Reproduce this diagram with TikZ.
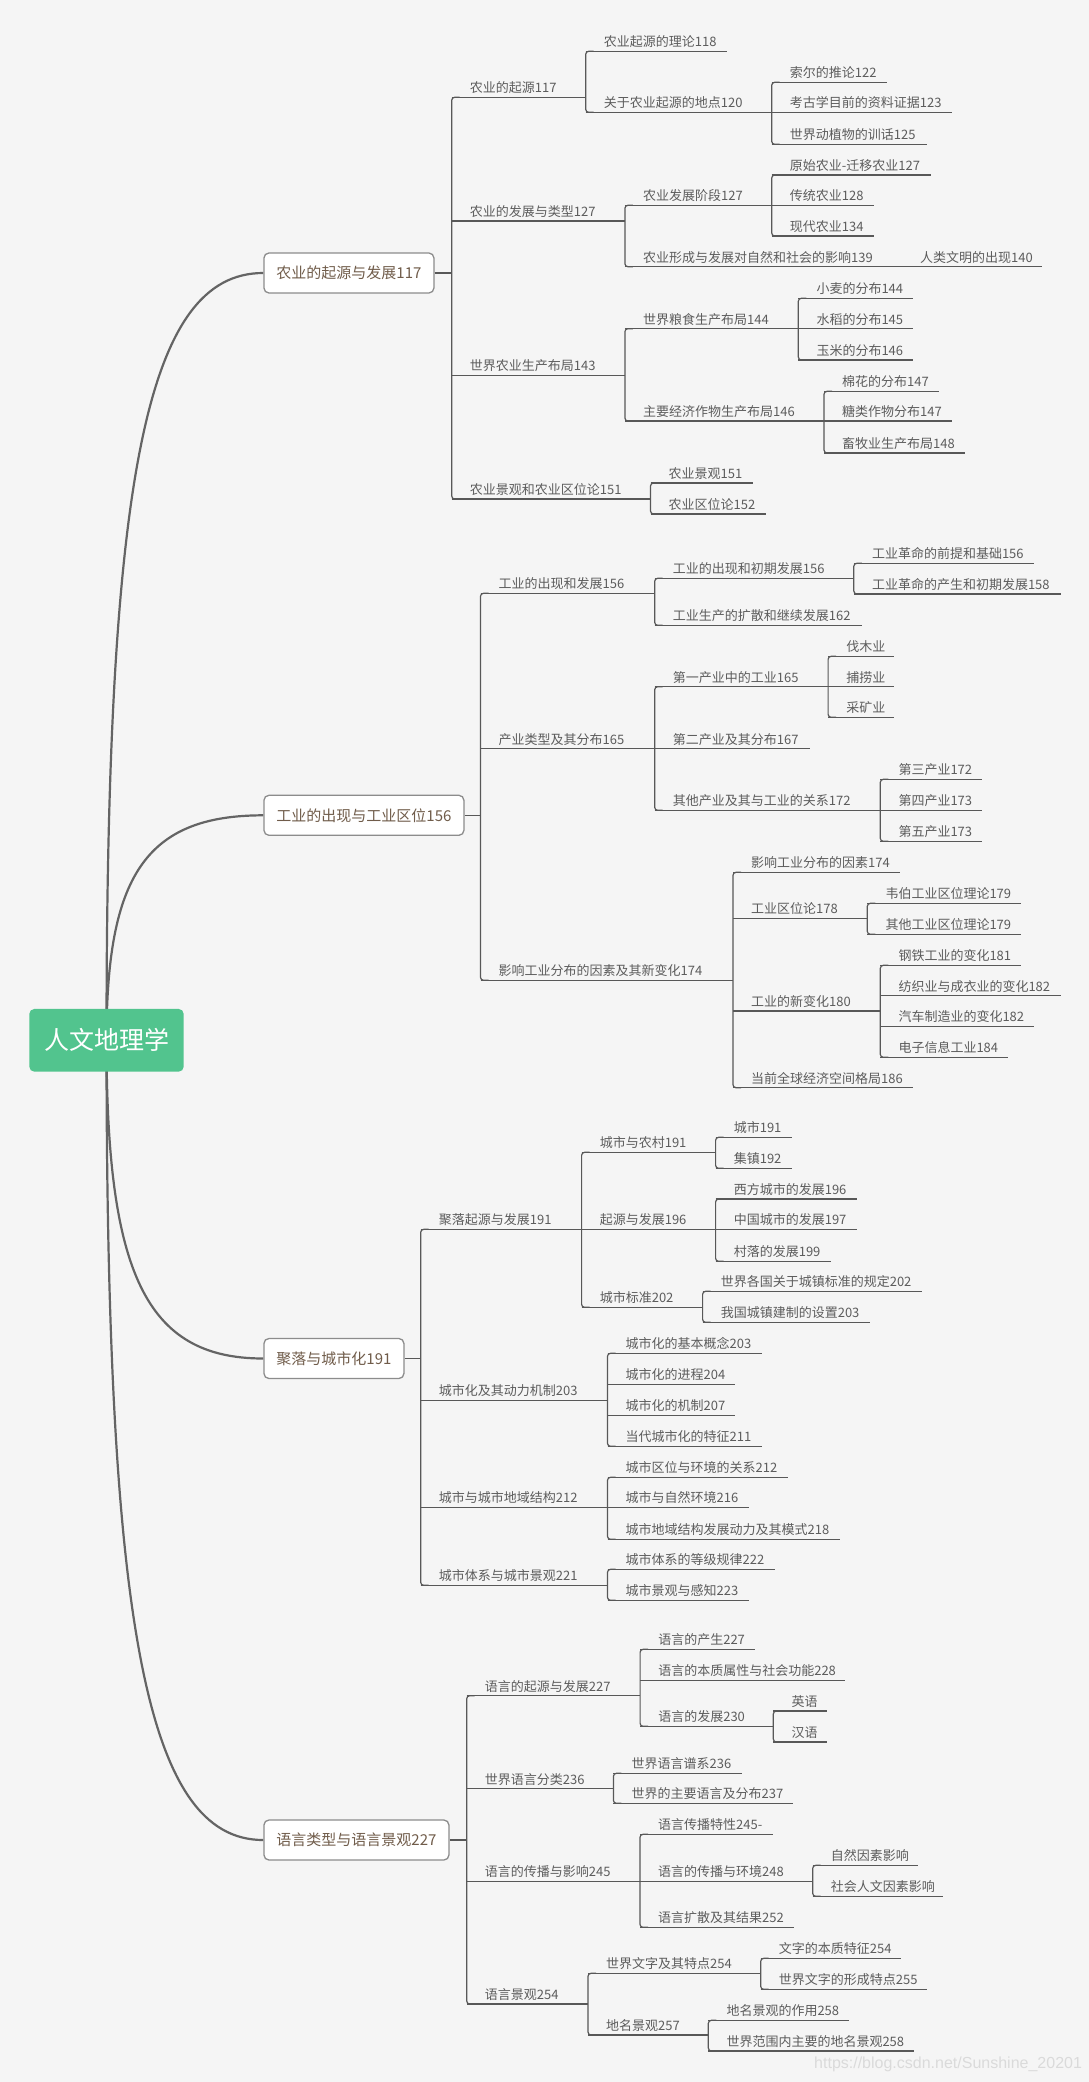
\documentclass[tikz,border=0pt]{standalone}
\usepackage{fontspec}
\newfontfamily\cjk{Noto Sans CJK SC}
\newfontfamily\wmfont{Liberation Sans}
\usetikzlibrary{calc}
\definecolor{bgc}{RGB}{245,245,245}
\definecolor{lnc}{RGB}{88,88,88}
\definecolor{leafc}{RGB}{92,92,92}
\definecolor{brtext}{RGB}{112,92,74}
\definecolor{brdraw}{RGB}{140,140,140}
\definecolor{rootc}{RGB}{82,196,142}
\definecolor{cvc}{RGB}{100,100,100}
\definecolor{wmc}{RGB}{218,218,218}
\pgfdeclarelayer{bglayer}
\pgfsetlayers{bglayer,main}
\tikzset{
  txt/.style={font=\cjk\fontsize{13}{15}\selectfont, text=leafc, inner sep=0pt, anchor=base west},
  ln/.style={draw=lnc, line width=1.2pt},
  lnb/.style={draw=lnc, line width=1.6pt},
  brbox/.style={draw=brdraw, fill=white, rounded corners=5pt, line width=1.3pt,
    font=\cjk\fontsize{15}{18}\selectfont, text=brtext, minimum height=40pt,
    inner xsep=12.5pt, inner ysep=0pt, anchor=west},
  rootbox/.style={fill=rootc, rounded corners=5pt, text=white,
    font=\cjk\fontsize{25}{30}\selectfont, minimum width=154.4pt, minimum height=62.7pt, inner sep=0pt},
  cv/.style={draw=cvc, line width=2.2pt},
  wm/.style={font=\wmfont\fontsize{16}{18}\selectfont, text=wmc, inner sep=0pt, anchor=base west}
}
\newcommand{\mmnode}[5]{%
  \coordinate (#1-l) at (#2,#3);
  \coordinate (#1-r) at (#4,#3);
  \node[txt] (#1) at ([shift={(18,-4.6)}]#1-l) {#5};
  \draw[ln] (#1-l) -- (#1-r);}
\newcommand{\mmbr}[2]{\draw[ln,rounded corners=3pt] ([xshift=8pt]#1-l) -- (#1-l) -- (#2-l) -- ([xshift=8pt]#2-l);}
\begin{document}
\begin{tikzpicture}[x=1pt,y=-1pt]
\useasboundingbox (0,0) rectangle (1089,2082);

% root and branch boxes
\node[rootbox] (R) at (106.5,1040.3) {人文地理学};
\node[brbox] (B1) at (263.3,273) {农业的起源与发展117};
\node[brbox] (B2) at (263.3,815.3) {工业的出现与工业区位156};
\node[brbox] (B3) at (263.3,1358.5) {聚落与城市化191};
\node[brbox] (B4) at (263.3,1840) {语言类型与语言景观227};

% ---------- Branch 1 ----------
\mmnode{a1}{451.7}{97.3}{585.7}{农业的起源117}
\mmnode{a11}{585.7}{51.3}{727.1}{农业起源的理论118}
\mmnode{a12}{585.7}{112.3}{771.7}{关于农业起源的地点120}
\mmnode{a121}{771.7}{82.3}{887}{索尔的推论122}
\mmnode{a122}{771.7}{112.3}{952.3}{考古学目前的资料证据123}
\mmnode{a123}{771.7}{144.3}{926.6}{世界动植物的训话125}
\mmnode{a2}{451.7}{221}{624.9}{农业的发展与类型127}
\mmnode{a21}{624.9}{205.3}{771.7}{农业发展阶段127}
\mmnode{a211}{771.7}{175}{930.8}{原始农业-迁移农业127}
\mmnode{a212}{771.7}{205.3}{874}{传统农业128}
\mmnode{a213}{771.7}{236}{874}{现代农业134}
\mmnode{a22}{624.9}{266.7}{902}{农业形成与发展对自然和社会的影响139}
\mmnode{a221}{902}{266.7}{1042}{人类文明的出现140}
\mmnode{a3}{451.7}{375.3}{624.9}{世界农业生产布局143}
\mmnode{a31}{624.9}{328.7}{798.3}{世界粮食生产布局144}
\mmnode{a311}{798.3}{298.3}{913.2}{小麦的分布144}
\mmnode{a312}{798.3}{328.7}{913.2}{水稻的分布145}
\mmnode{a313}{798.3}{360}{913.2}{玉米的分布146}
\mmnode{a32}{624.9}{421}{824}{主要经济作物生产布局146}
\mmnode{a321}{824}{391.3}{939.3}{棉花的分布147}
\mmnode{a322}{824}{421}{951.9}{糖类作物分布147}
\mmnode{a323}{824}{453}{965.4}{畜牧业生产布局148}
\mmnode{a4}{451.7}{499}{650.5}{农业景观和农业区位论151}
\mmnode{a41}{650.5}{483}{753.2}{农业景观151}
\mmnode{a42}{650.5}{514}{765.9}{农业区位论152}
\draw[lnb] (B1.east) -- (B1.east -| a1-l);
\mmbr{a1}{a4}
\mmbr{a11}{a12}
\mmbr{a121}{a123}
\mmbr{a21}{a22}
\mmbr{a211}{a213}
\mmbr{a31}{a32}
\mmbr{a311}{a313}
\mmbr{a321}{a323}
\mmbr{a41}{a42}

% ---------- Branch 2 ----------
\mmnode{b1}{480.5}{593.3}{654.7}{工业的出现和发展156}
\mmnode{b11}{654.7}{578.3}{853.8}{工业的出现和初期发展156}
\mmnode{b111}{853.8}{563.3}{1034.4}{工业革命的前提和基础156}
\mmnode{b112}{853.8}{594}{1060.5}{工业革命的产生和初期发展158}
\mmnode{b12}{654.7}{625.3}{861.8}{工业生产的扩散和继续发展162}
\mmnode{b2}{480.5}{748.7}{654.7}{产业类型及其分布165}
\mmnode{b21}{654.7}{686.7}{828.1}{第一产业中的工业165}
\mmnode{b211}{828.1}{656.3}{894.2}{伐木业}
\mmnode{b212}{828.1}{686.7}{894.2}{捕捞业}
\mmnode{b213}{828.1}{717.3}{894.2}{采矿业}
\mmnode{b22}{654.7}{748.7}{809.6}{第二产业及其分布167}
\mmnode{b23}{654.7}{810.3}{880.3}{其他产业及其与工业的关系172}
\mmnode{b231}{880.3}{779.3}{982.2}{第三产业172}
\mmnode{b232}{880.3}{810.3}{982.2}{第四产业173}
\mmnode{b233}{880.3}{841.3}{982.2}{第五产业173}
\mmnode{b3}{480.5}{980.3}{733}{影响工业分布的因素及其新变化174}
\mmnode{b31}{733}{872.3}{900.1}{影响工业分布的因素174}
\mmnode{b32}{733}{918.3}{867.3}{工业区位论178}
\mmnode{b321}{867.3}{903.3}{1021.3}{韦伯工业区位理论179}
\mmnode{b322}{867.3}{934.3}{1021.3}{其他工业区位理论179}
\mmnode{b33}{733}{1011}{880.3}{工业的新变化180}
\mmnode{b331}{880.3}{965.3}{1021.3}{钢铁工业的变化181}
\mmnode{b332}{880.3}{995.7}{1060.5}{纺织业与成衣业的变化182}
\mmnode{b333}{880.3}{1026.3}{1034.4}{汽车制造业的变化182}
\mmnode{b334}{880.3}{1057.3}{1008.3}{电子信息工业184}
\mmnode{b34}{733}{1087.7}{913.2}{当前全球经济空间格局186}
\draw[lnb] (B2.east) -- (B2.east -| b1-l);
\mmbr{b1}{b3}
\mmbr{b11}{b12}
\mmbr{b111}{b112}
\mmbr{b21}{b23}
\mmbr{b211}{b213}
\mmbr{b231}{b233}
\mmbr{b31}{b34}
\mmbr{b321}{b322}
\mmbr{b331}{b334}

% ---------- Branch 3 ----------
\mmnode{c1}{420.7}{1229.3}{581.6}{聚落起源与发展191}
\mmnode{c11}{581.6}{1152.3}{715.6}{城市与农村191}
\mmnode{c111}{715.6}{1137.3}{791.8}{城市191}
\mmnode{c112}{715.6}{1168.3}{791.8}{集镇192}
\mmnode{c12}{581.6}{1229.3}{715.6}{起源与发展196}
\mmnode{c121}{715.6}{1199}{857.2}{西方城市的发展196}
\mmnode{c122}{715.6}{1229.3}{857.2}{中国城市的发展197}
\mmnode{c123}{715.6}{1261.3}{830.6}{村落的发展199}
\mmnode{c13}{581.6}{1307.3}{702.6}{城市标准202}
\mmnode{c131}{702.6}{1291.3}{922}{世界各国关于城镇标准的规定202}
\mmnode{c132}{702.6}{1322.3}{870.2}{我国城镇建制的设置203}
\mmnode{c2}{420.7}{1400.3}{607.5}{城市化及其动力机制203}
\mmnode{c21}{607.5}{1353.3}{761.8}{城市化的基本概念203}
\mmnode{c22}{607.5}{1384.3}{735.2}{城市化的进程204}
\mmnode{c23}{607.5}{1415.3}{735.2}{城市化的机制207}
\mmnode{c24}{607.5}{1446.3}{761.8}{当代城市化的特征211}
\mmnode{c3}{420.7}{1507.3}{607.5}{城市与城市地域结构212}
\mmnode{c31}{607.5}{1477.3}{787.7}{城市区位与环境的关系212}
\mmnode{c32}{607.5}{1507.3}{748.8}{城市与自然环境216}
\mmnode{c33}{607.5}{1539.3}{839.9}{城市地域结构发展动力及其模式218}
\mmnode{c4}{420.7}{1585.3}{607.5}{城市体系与城市景观221}
\mmnode{c41}{607.5}{1569.3}{775.1}{城市体系的等级规律222}
\mmnode{c42}{607.5}{1600.3}{748.8}{城市景观与感知223}
\draw[lnb] (B3.east) -- (B3.east -| c1-l);
\mmbr{c1}{c4}
\mmbr{c11}{c13}
\mmbr{c111}{c112}
\mmbr{c121}{c123}
\mmbr{c131}{c132}
\mmbr{c21}{c24}
\mmbr{c31}{c33}
\mmbr{c41}{c42}

% ---------- Branch 4 ----------
\mmnode{d1}{466.7}{1695.7}{640.1}{语言的起源与发展227}
\mmnode{d11}{640.1}{1649.3}{754.8}{语言的产生227}
\mmnode{d12}{640.1}{1680.3}{845.4}{语言的本质属性与社会功能228}
\mmnode{d13}{640.1}{1726.3}{773.3}{语言的发展230}
\mmnode{d131}{773.3}{1711}{826.9}{英语}
\mmnode{d132}{773.3}{1742}{826.9}{汉语}
\mmnode{d2}{466.7}{1788.7}{613.4}{世界语言分类236}
\mmnode{d21}{613.4}{1773.3}{741.5}{世界语言谱系236}
\mmnode{d22}{613.4}{1803.3}{793.2}{世界的主要语言及分布237}
\mmnode{d3}{466.7}{1881.3}{640}{语言的传播与影响245}
\mmnode{d31}{640}{1834.3}{773.4}{语言传播特性245-}
\mmnode{d32}{640}{1881.3}{812.7}{语言的传播与环境248}
\mmnode{d321}{812.7}{1865.3}{918.1}{自然因素影响}
\mmnode{d322}{812.7}{1896.3}{943.4}{社会人文因素影响}
\mmnode{d33}{640}{1927.3}{793.7}{语言扩散及其结果252}
\mmnode{d4}{466.7}{2004}{588}{语言景观254}
\mmnode{d41}{588}{1973.3}{760.7}{世界文字及其特点254}
\mmnode{d411}{760.7}{1958.3}{901.3}{文字的本质特征254}
\mmnode{d412}{760.7}{1989.3}{927.1}{世界文字的形成特点255}
\mmnode{d42}{588}{2035}{708.3}{地名景观257}
\mmnode{d421}{708.3}{2020.3}{849.3}{地名景观的作用258}
\mmnode{d422}{708.3}{2051}{914.4}{世界范围内主要的地名景观258}
\draw[lnb] (B4.east) -- (B4.east -| d1-l);
\mmbr{d1}{d4}
\mmbr{d11}{d13}
\mmbr{d131}{d132}
\mmbr{d21}{d22}
\mmbr{d31}{d33}
\mmbr{d321}{d322}
\mmbr{d41}{d42}
\mmbr{d411}{d412}
\mmbr{d421}{d422}

\node[wm] (wm) at (814,2068) {https://blog.csdn.net/Sunshine\_20201};

\begin{pgfonlayer}{bglayer}
\fill[bgc] (0,0) rectangle (1089,2082);
\draw[cv] (R.center) .. controls +(0,-560) and +(-118,0) .. (B1.west);
\draw[cv] (R.center) .. controls +(0,-164) and +(-118,0) .. (B2.west);
\draw[cv] (R.center) .. controls +(0,232) and +(-118,0) .. (B3.west);
\draw[cv] (R.center) .. controls +(0,583) and +(-118,0) .. (B4.west);
\end{pgfonlayer}
\end{tikzpicture}
\end{document}
